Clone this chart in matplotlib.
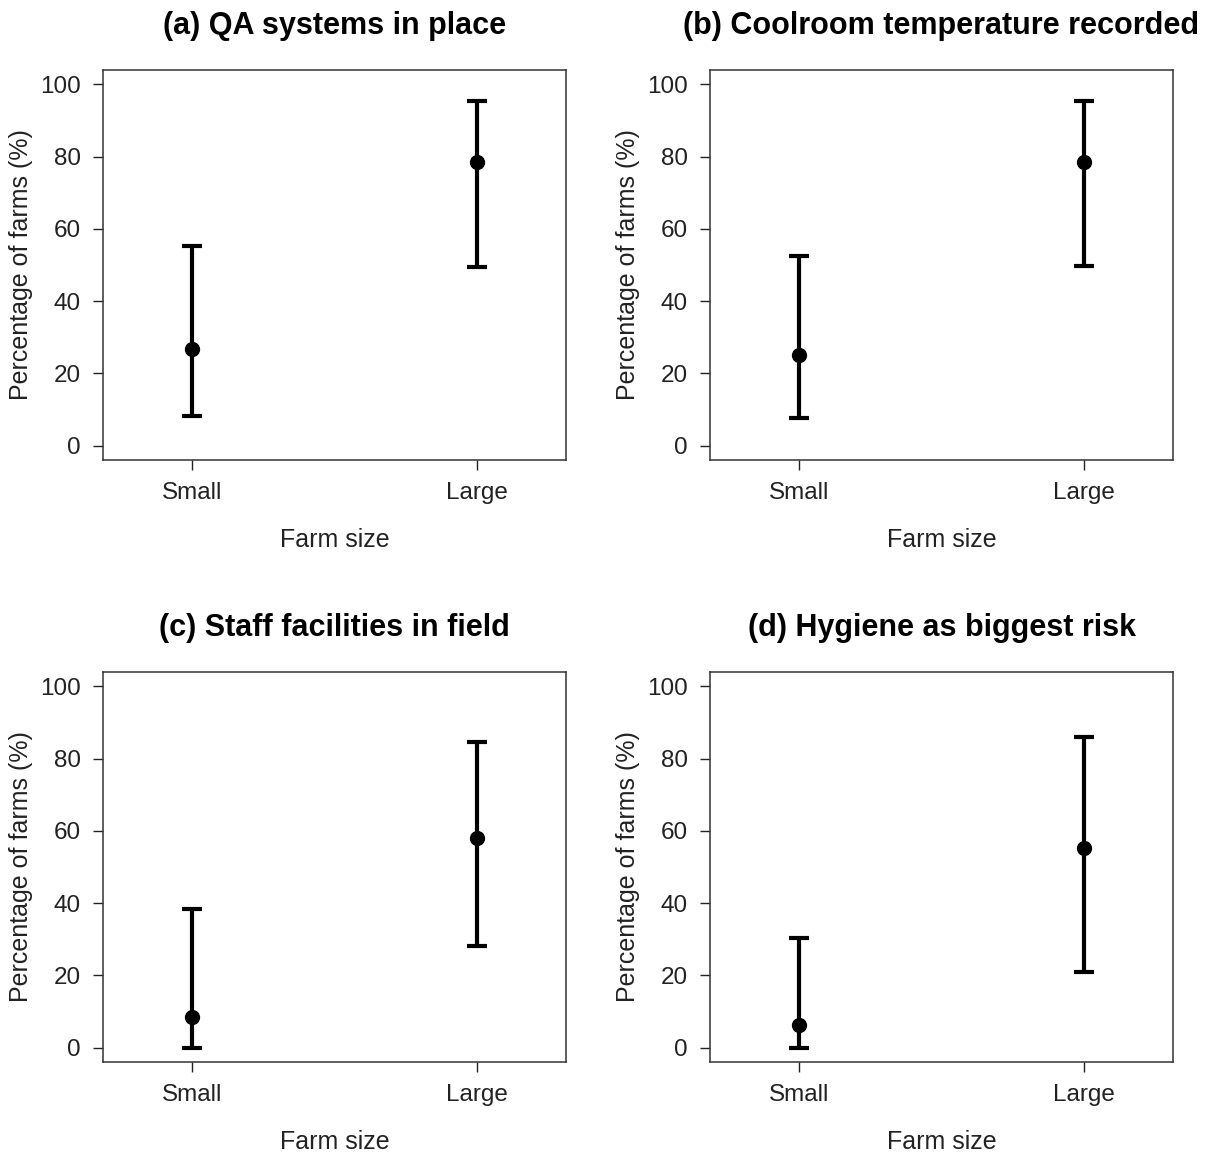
import numpy as np
import matplotlib
matplotlib.use("Agg")
import matplotlib.pyplot as plt

plt.rcParams['font.family'] = ['Liberation Sans', 'DejaVu Sans']

titles = ["(a) QA systems in place", "(b) Coolroom temperature recorded",
          "(c) Staff facilities in field", "(d) Hygiene as biggest risk"]
sizes = ["Small", "Large"]

# point estimate and interval, per panel
small_mean = [26.8, 25.2, 8.4, 6.2]
small_lo = [8.1, 7.5, 0.0, 0.0]
small_hi = [55.2, 52.6, 38.5, 30.3]
large_mean = [78.6, 78.6, 58.0, 55.3]
large_lo = [49.5, 49.6, 28.0, 21.0]
large_hi = [95.4, 95.5, 84.5, 86.1]

fig = plt.figure(figsize=(12.1, 11.53), dpi=100)

W, H = 1210, 1153
boxes = [(103, 70), (710, 70), (103, 672), (710, 672)]
bw, bh = 463, 390

for i, (x0, y0) in enumerate(boxes):
    ax = fig.add_axes([x0 / W, 1 - (y0 + bh) / H, bw / W, bh / H])
    xs = np.array([1, 2])
    means = np.array([small_mean[i], large_mean[i]])
    lo = np.array([small_lo[i], large_lo[i]])
    hi = np.array([small_hi[i], large_hi[i]])
    ax.errorbar(xs, means, yerr=[means - lo, hi - means], fmt='o', color='black',
                ecolor='black', elinewidth=3, capsize=7, capthick=3,
                markersize=10)
    ax.set_xlim(0.69, 2.31)
    ax.set_ylim(-4, 104)
    ax.set_xticks(xs)
    ax.set_xticklabels(sizes)
    ax.set_yticks([0, 20, 40, 60, 80, 100])
    ax.tick_params(axis='both', labelsize=17.5, length=7, width=1, pad=9,
                   colors='#222222')
    for s in ax.spines.values():
        s.set_linewidth(1.1)
        s.set_color('#333333')
    ax.set_xlabel("Farm size", fontsize=18, labelpad=17, color='#222222')
    ax.set_ylabel("Percentage of farms (%)", fontsize=18, labelpad=5, color='#222222')
    ax.set_title(titles[i], fontsize=22, fontweight='bold', pad=26)

fig.savefig("out.png", dpi=100)
